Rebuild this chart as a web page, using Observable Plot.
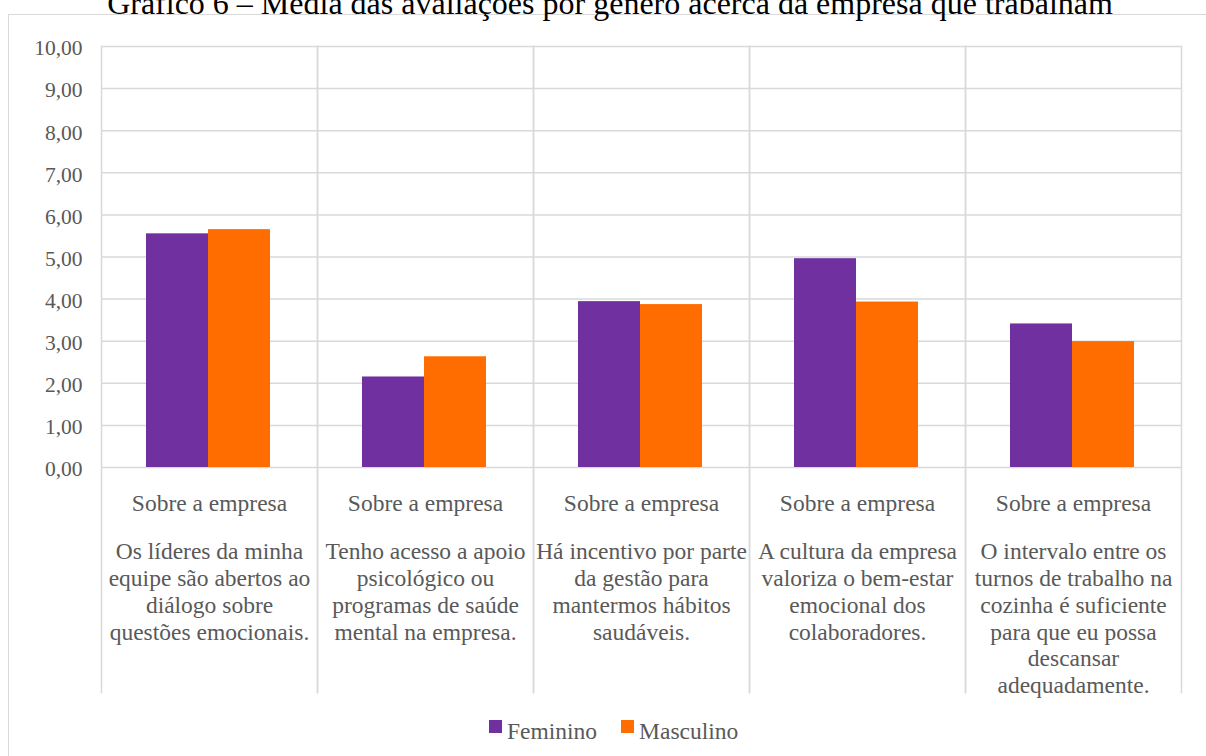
<!DOCTYPE html>
<html><head><meta charset="utf-8">
<script src="https://cdn.jsdelivr.net/npm/d3@7"></script>
<script src="https://cdn.jsdelivr.net/npm/@observablehq/plot@0.6"></script>
<style>
body{margin:0;background:#fff;font-family:"Liberation Serif",serif;}
#wrap{position:relative;width:1206px;height:756px;overflow:hidden;}
#title{position:absolute;left:0;width:1220px;text-align:center;top:-13px;font-size:32px;line-height:32px;color:#000;white-space:nowrap;font-family:"Liberation Serif",serif;}
#box{position:absolute;left:8px;top:14px;width:1300px;height:800px;border:1.5px solid #d9d9d9;box-sizing:border-box;}
#chart{position:absolute;left:0;top:0;}
#legend{position:absolute;top:719px;left:489px;font-size:23.5px;line-height:24px;color:#595959;white-space:nowrap;font-family:"Liberation Serif",serif;}
#legend span.item{display:inline-block;margin-right:24px;}
#legend span.sw{display:inline-block;width:13px;height:13px;margin-right:5px;vertical-align:6px;}
</style>
</head><body>
<div id="wrap">
  <div id="box"></div>
  <div id="title">Gráfico 6 – Média das avaliações por gênero acerca da empresa que trabalham</div>
  <div id="chart"></div>
  <div id="legend"></div>
</div>
<script>
const groupLabel = "Sobre a empresa";
const questions = [
  "Os líderes da minha\nequipe são abertos ao\ndiálogo sobre\nquestões emocionais.",
  "Tenho acesso a apoio\npsicológico ou\nprogramas de saúde\nmental na empresa.",
  "Há incentivo por parte\nda gestão para\nmantermos hábitos\nsaudáveis.",
  "A cultura da empresa\nvaloriza o bem-estar\nemocional dos\ncolaboradores.",
  "O intervalo entre os\nturnos de trabalho na\ncozinha é suficiente\npara que eu possa\ndescansar\nadequadamente."
];
const genders = ["Feminino", "Masculino"];
const feminino = [5.55, 2.15, 3.94, 4.96, 3.41];
const masculino = [5.65, 2.63, 3.87, 3.93, 2.99];
const yTicks = [0, 1, 2, 3, 4, 5, 6, 7, 8, 9, 10];
const colors = ["#7030A0", "#FF6D00"];

const table = questions.flatMap((q, i) => [
  {q, g: genders[0], v: feminino[i]},
  {q, g: genders[1], v: masculino[i]}
]);
const fmt = d => d.toFixed(2).replace(".", ",");
const grid = {stroke: "#d9d9d9", strokeOpacity: 1, strokeWidth: 1.5};
const serif = "Liberation Serif";
const txt = {fontSize: 23.5, fill: "#595959", fontFamily: serif};

const chart = Plot.plot({
  width: 1206,
  height: 712,
  marginLeft: 100,
  marginRight: 24,
  marginTop: 46,
  marginBottom: 245,
  style: {fontFamily: serif, fontSize: "20px", color: "#595959", background: "transparent", overflow: "visible"},
  fx: {domain: questions, padding: 0, axis: null},
  x: {domain: genders, paddingInner: 0, paddingOuter: 0.72, axis: null},
  y: {domain: [0, 10], axis: null},
  color: {domain: genders, range: colors},
  marks: [
    Plot.gridY({ticks: yTicks, ...grid}),
    Plot.frame({anchor: "left", ...grid, insetBottom: -225}),
    Plot.frame({anchor: "right", ...grid, insetBottom: -225}),
    Plot.barY(table, {fx: "q", x: "g", y: "v", fill: "g", dx: -1}),
    Plot.axisY({ticks: yTicks, tickFormat: fmt, tickSize: 0, tickPadding: 19, label: null, dy: 2, fontSize: 21.5, fill: "#595959", fontFamily: serif}),
    Plot.axisFx({anchor: "bottom", tickSize: 0, tickPadding: 27, tickFormat: () => groupLabel, label: null, ...txt}),
    Plot.axisFx({anchor: "bottom", tickSize: 0, tickPadding: 73, tickFormat: d => d, lineHeight: 1.136, label: null, ...txt})
  ]
});
document.getElementById("chart").appendChild(chart);

const legend = document.getElementById("legend");
genders.forEach((g, i) => {
  const item = document.createElement("span");
  item.className = "item";
  const sw = document.createElement("span");
  sw.className = "sw";
  sw.style.background = colors[i];
  item.appendChild(sw);
  item.appendChild(document.createTextNode(g));
  legend.appendChild(item);
});
</script>
</body></html>
